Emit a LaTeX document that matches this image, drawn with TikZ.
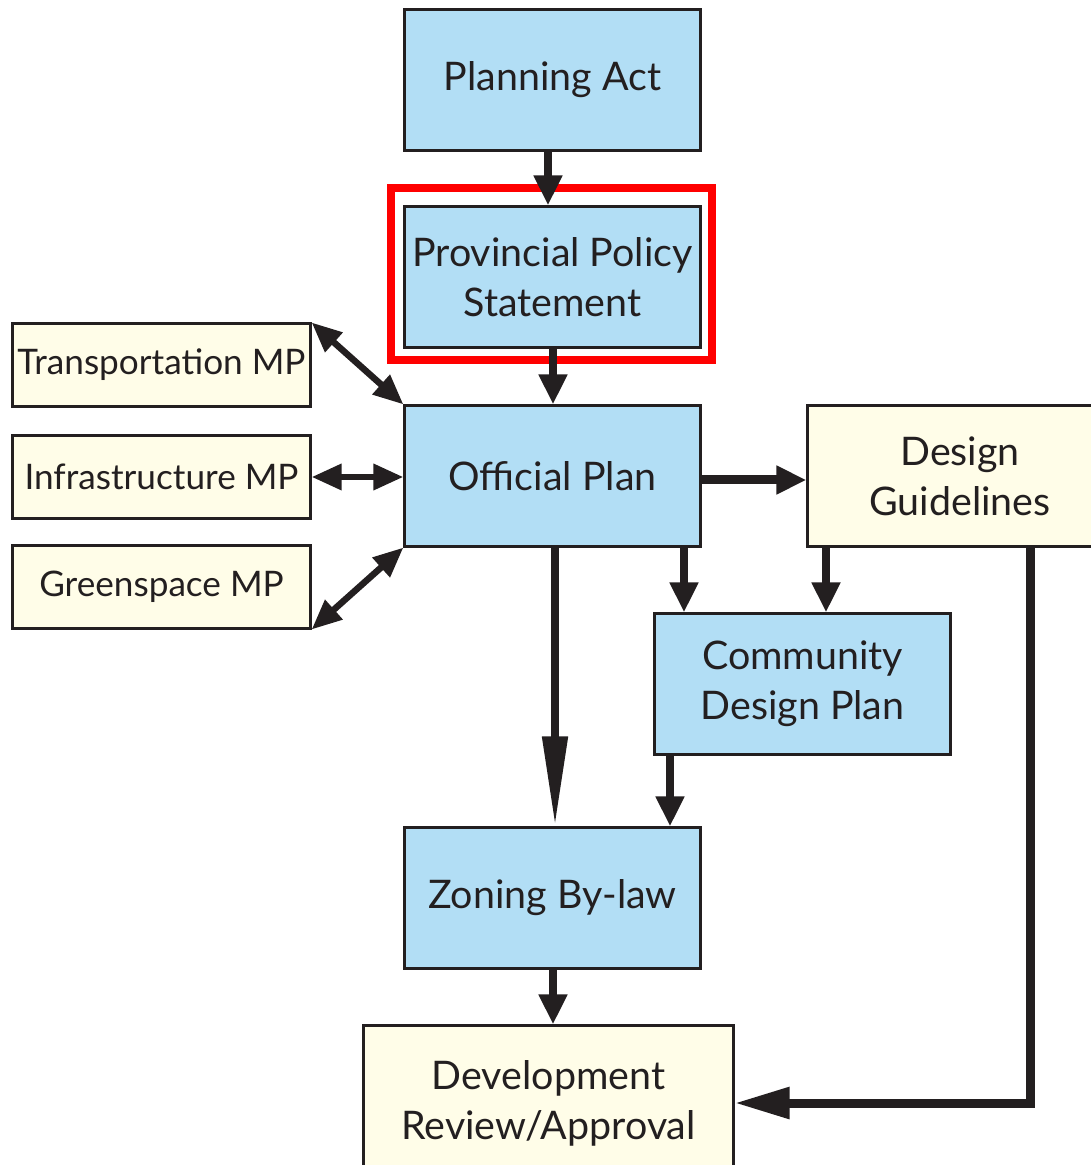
\documentclass[tikz,border=0pt]{standalone}
\usepackage{fontspec}
\setmainfont{Lato}
\usetikzlibrary{arrows.meta,calc}
\definecolor{boxblue}{HTML}{B2DEF5}
\definecolor{boxcream}{HTML}{FFFDE8}
\definecolor{ink}{HTML}{231F20}
\definecolor{hilite}{HTML}{FF0000}
\begin{document}
\begin{tikzpicture}[x=0.01cm,y=-0.01cm,
  base/.style={draw=ink,line width=0.03cm,text=ink,align=center,inner sep=0pt},
  bluebox/.style={base,fill=boxblue,minimum width=2.95cm,minimum height=1.4cm,font=\fontsize{11.2}{14.2}\selectfont},
  creambox/.style={base,fill=boxcream,font=\fontsize{11.2}{14.2}\selectfont},
  mpbox/.style={base,fill=boxcream,minimum width=2.97cm,minimum height=0.82cm,font=\fontsize{10}{12}\selectfont},
  flow/.style={draw=ink,line width=0.08cm,-{Triangle[length=0.3cm,width=0.27cm]}},
  twoway/.style={draw=ink,line width=0.065cm,{Triangle[length=0.3cm,width=0.25cm]}-{Triangle[length=0.3cm,width=0.25cm]}}
]
\useasboundingbox (0,0) rectangle (1090,1165);

% main chain of plans
\node[bluebox] (pa)  at (552.5,80)  {Planning Act};
\node[bluebox] (pps) at (552.5,277) {Provincial Policy\\Statement};
\node[bluebox] (op)  at (552.5,476) {Official Plan};
\node[bluebox] (cdp) at (802.5,684) {Community\\Design Plan};
\node[bluebox] (zb)  at (552.5,898) {Zoning By-law};

% supporting documents
\node[creambox,minimum width=3.04cm,minimum height=1.4cm] (dg) at (960,476) {Design\\Guidelines};
\node[creambox,minimum width=3.69cm,minimum height=1.54cm] (dr) at (548.5,1103) {Development\\Review/Approval};

\node[mpbox] (tmp) at (161.5,365) {Transportation MP};
\node[mpbox] (imp) at (161.5,477) {Infrastructure MP};
\node[mpbox] (gmp) at (161.5,587) {Greenspace MP};

% highlight frame
\draw[hilite,line width=0.08cm] (391,188) rectangle (711.5,360.5);

% connectors
\draw[flow] (548,0 |- pa.south) -- (548,0 |- pps.north);
\draw[flow] (553,0 |- pps.south) -- (553,0 |- op.north);
\draw[twoway] (tmp.north east) -- (op.north west);
\draw[twoway] (imp.east) -- (op.west |- imp.east);
\draw[twoway] (gmp.south east) -- (op.south west);
\draw[flow,line width=0.09cm] ($(op.east)+(0,4)$) -- ($(dg.west)+(0,4)$);
\draw[flow] (684,0 |- op.south) -- (684,0 |- cdp.north);
\draw[flow] (826,0 |- dg.south) -- (826,0 |- cdp.north);
\draw[draw=ink,line width=0.08cm,-{Triangle[length=0.9cm,width=0.24cm]}] (555,0 |- op.south) -- (555,0 |- zb.north);
\draw[flow] (670,0 |- cdp.south) -- (670,0 |- zb.north);
\draw[flow] (553,0 |- zb.south) -- (553,0 |- dr.north);
\draw[draw=ink,line width=0.09cm,-{Triangle[length=0.55cm,width=0.3cm]}] (1030,0 |- dg.south) |- (dr.east);
\end{tikzpicture}
\end{document}
